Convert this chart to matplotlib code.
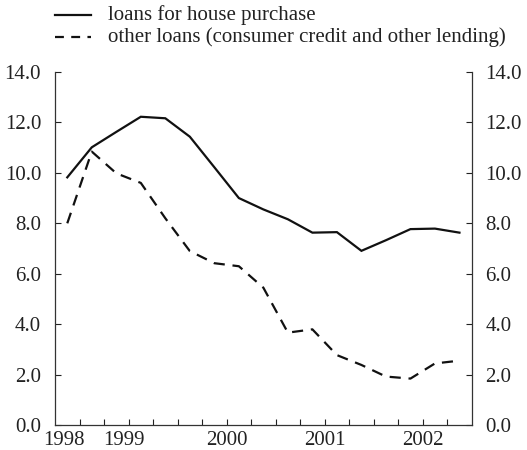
import matplotlib
matplotlib.use("Agg")
import matplotlib.pyplot as plt
from matplotlib.lines import Line2D
from matplotlib.transforms import blended_transform_factory

# quarterly observations, 1998 Q4 - 2002 Q4
quarters = list(range(17))
house_purchase = [9.82, 11.01, 11.62, 12.22, 12.16, 11.43, 10.22, 9.00, 8.55,
                  8.16, 7.63, 7.65, 6.91, 7.33, 7.77, 7.79, 7.63]
other_loans = [8.00, 10.84, 9.98, 9.60, 8.20, 6.90, 6.42, 6.30, 5.45,
               3.67, 3.80, 2.78, 2.39, 1.93, 1.85, 2.45, 2.56]
years = ["1998", "1999", "2000", "2001", "2002"]
year_quarters = [1, 4, 4, 4, 4]  # number of quarters shown per year
y_ticks = [0, 2, 4, 6, 8, 10, 12, 14]

FONT = "Liberation Serif"
plt.rcParams["font.family"] = [FONT, "DejaVu Serif"]
plt.rcParams["font.size"] = 15

fig = plt.figure(figsize=(5.27, 4.5), dpi=100)
ax = fig.add_axes([0.1044, 0.0549, 0.7907, 0.7855])

dash = (0, (5, 3.5))
ax.plot(quarters, house_purchase, color="#111111", lw=1.6, solid_joinstyle="miter")
ax.plot(quarters, other_loans, color="#111111", lw=1.6, linestyle=dash)

ax.set_xlim(-0.5, 16.5)
ax.set_ylim(0, 14)

# y axis on both sides, ticks inward
ax.set_yticks(y_ticks)
ax.set_yticklabels([f"{v:.1f}" for v in y_ticks])
ax.tick_params(axis="y", direction="in", length=4, width=0.8, pad=10,
               left=True, right=True, labelleft=True, labelright=True,
               colors="#222222", labelsize=15)

# quarterly ticks on the bottom, longer ones at year boundaries
edges = [q - 0.5 for q in range(18)]
boundaries = []
pos = -0.5
for n in year_quarters:
    pos += n
    boundaries.append(pos)
ax.set_xticks(edges[1:-1])
ax.set_xticklabels([])
ax.tick_params(axis="x", which="major", direction="in", length=4, width=0.8,
               colors="#222222")
ax.set_xticks(boundaries[:-1], minor=True)
ax.tick_params(axis="x", which="minor", direction="in", length=7, width=0.8,
               colors="#222222")

# year labels centred under each year's span (first two nudged left as in print)
start = -0.5
nudge = [-0.12, -0.2, 0, 0, 0]
trans = blended_transform_factory(ax.transData, fig.transFigure)
for yr, n, dx in zip(years, year_quarters, nudge):
    centre = start + n / 2 + dx
    ax.text(centre, 0.011, yr, transform=trans, ha="center", va="baseline",
            fontsize=15, color="#222222")
    start += n

ax.spines["top"].set_visible(False)
for s in ("left", "right", "bottom"):
    ax.spines[s].set_linewidth(0.9)
    ax.spines[s].set_color("#333333")

# legend drawn above the plot area
fig.add_artist(Line2D([0.105, 0.173], [0.966, 0.966], transform=fig.transFigure,
                      color="#111111", lw=1.6))
fig.add_artist(Line2D([0.105, 0.173], [0.917, 0.917], transform=fig.transFigure,
                      color="#111111", lw=1.6, linestyle=(0, (4, 3.3))))
fig.text(0.205, 0.966, "loans for house purchase", va="center", ha="left",
         fontsize=15, color="#222222")
fig.text(0.205, 0.917, "other loans (consumer credit and other lending)",
         va="center", ha="left", fontsize=15, color="#222222")

fig.savefig("out.png", dpi=100)
